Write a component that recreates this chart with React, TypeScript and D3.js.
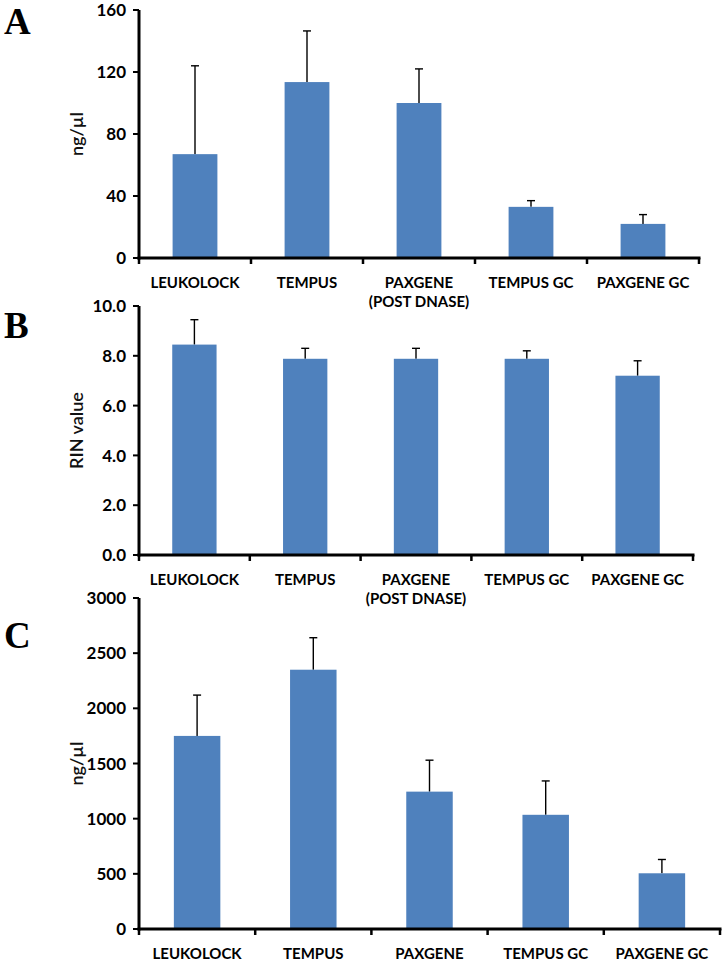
import React from "react";
import * as d3 from "d3";

const categoriesA = ["LEUKOLOCK", "TEMPUS", "PAXGENE\n(POST DNASE)", "TEMPUS GC", "PAXGENE GC"];
const categoriesB = ["LEUKOLOCK", "TEMPUS", "PAXGENE\n(POST DNASE)", "TEMPUS GC", "PAXGENE GC"];
const categoriesC = ["LEUKOLOCK", "TEMPUS", "PAXGENE", "TEMPUS GC", "PAXGENE GC"];

const valuesA = [67, 113.5, 100, 33, 22];
const errorTopA = [124, 146.5, 122, 37, 28];
const ticksA = [0, 40, 80, 120, 160];

const valuesB = [8.45, 7.88, 7.88, 7.88, 7.2];
const errorTopB = [9.45, 8.3, 8.3, 8.2, 7.8];
const ticksB = [0, 2, 4, 6, 8, 10];

const valuesC = [1750, 2350, 1245, 1035, 505];
const errorTopC = [2120, 2640, 1530, 1342, 630];
const ticksC = [0, 500, 1000, 1500, 2000, 2500, 3000];

const BAR = "#4F81BD";
const FONT = "Lato, 'Open Sans', sans-serif";

type PanelProps = {
  letter: string;
  letterY: number;
  cats: string[];
  values: number[];
  errs: number[];
  ticks: number[];
  fmt: (v: number) => string;
  title: string;
  x0: number;
  x1: number;
  yTop: number;
  yBottom: number;
  titleX: number;
};

function Panel(p: PanelProps) {
  const x = d3.scaleBand<string>().domain(p.cats).range([p.x0, p.x1]).paddingInner(0.6).paddingOuter(0.3);
  const y = d3.scaleLinear().domain([p.ticks[0], p.ticks[p.ticks.length - 1]]).range([p.yBottom, p.yTop]);
  const step = (p.x1 - p.x0) / p.cats.length;
  const bounds = d3.range(p.cats.length + 1).map((i) => p.x0 + i * step);
  const bw = x.bandwidth();
  return (
    <g>
      <text x={4} y={p.letterY} fontFamily="'Liberation Serif', 'DejaVu Serif', serif" fontWeight="bold" fontSize={37}>
        {p.letter}
      </text>
      {p.cats.map((c, i) => {
        const cx = (x(c) as number) + bw / 2;
        return (
          <g key={c}>
            <line x1={cx} x2={cx} y1={y(p.values[i])} y2={y(p.errs[i])} stroke="#000" strokeWidth={1.4} />
            <line x1={cx - 4} x2={cx + 4} y1={y(p.errs[i])} y2={y(p.errs[i])} stroke="#000" strokeWidth={1.4} />
            <rect x={x(c)} y={y(p.values[i])} width={bw} height={p.yBottom - y(p.values[i])} fill={BAR} />
          </g>
        );
      })}
      <line x1={p.x0} x2={p.x0} y1={p.yTop} y2={p.yBottom + 1.5} stroke="#000" strokeWidth={3} />
      {p.ticks.map((t) => (
        <g key={t}>
          <line x1={p.x0 - 6} x2={p.x0} y1={y(t)} y2={y(t)} stroke="#000" strokeWidth={2} />
          <text x={p.x0 - 13} y={y(t)} dy="0.36em" textAnchor="end" fontFamily={FONT} fontWeight="bold" fontSize={17}>
            {p.fmt(t)}
          </text>
        </g>
      ))}
      <line x1={p.x0 - 1.5} x2={p.x1 + 1.5} y1={p.yBottom} y2={p.yBottom} stroke="#000" strokeWidth={3} />
      {bounds.map((b, i) => (
        <line key={i} x1={b} x2={b} y1={p.yBottom} y2={p.yBottom + 6} stroke="#000" strokeWidth={2.5} />
      ))}
      {p.cats.map((c) => {
        const cx = (x(c) as number) + bw / 2;
        const lines = c.split("\n");
        return (
          <text key={c} x={cx} y={p.yBottom + 30} textAnchor="middle" fontFamily={FONT} fontWeight="bold" fontSize={15}>
            {lines.map((l, j) => (
              <tspan key={j} x={cx} dy={j === 0 ? 0 : 19}>
                {l}
              </tspan>
            ))}
          </text>
        );
      })}
      <text
        transform={`translate(${p.titleX},${(p.yTop + p.yBottom) / 2}) rotate(-90)`}
        textAnchor="middle"
        fontFamily={FONT}
        fontWeight="600"
        fontSize={18}
        fill="#111"
      >
        {p.title}
      </text>
    </g>
  );
}

export default function App() {
  const f0 = d3.format("d");
  const f1 = d3.format(".1f");
  return (
    <svg width={726} height={964} style={{ position: "absolute", left: 0, top: 0, background: "#fff" }}>
      <rect width={726} height={964} fill="#fff" />
      <Panel letter="A" letterY={34} cats={categoriesA} values={valuesA} errs={errorTopA} ticks={ticksA} fmt={f0}
        title="ng/µl" x0={139} x1={699} yTop={10} yBottom={258} titleX={83} />
      <Panel letter="B" letterY={338} cats={categoriesB} values={valuesB} errs={errorTopB} ticks={ticksB} fmt={f1}
        title="RIN value" x0={139} x1={693} yTop={306} yBottom={555} titleX={83} />
      <Panel letter="C" letterY={648} cats={categoriesC} values={valuesC} errs={errorTopC} ticks={ticksC} fmt={f0}
        title="ng/µl" x0={139} x1={720} yTop={598} yBottom={929} titleX={83} />
    </svg>
  );
}
